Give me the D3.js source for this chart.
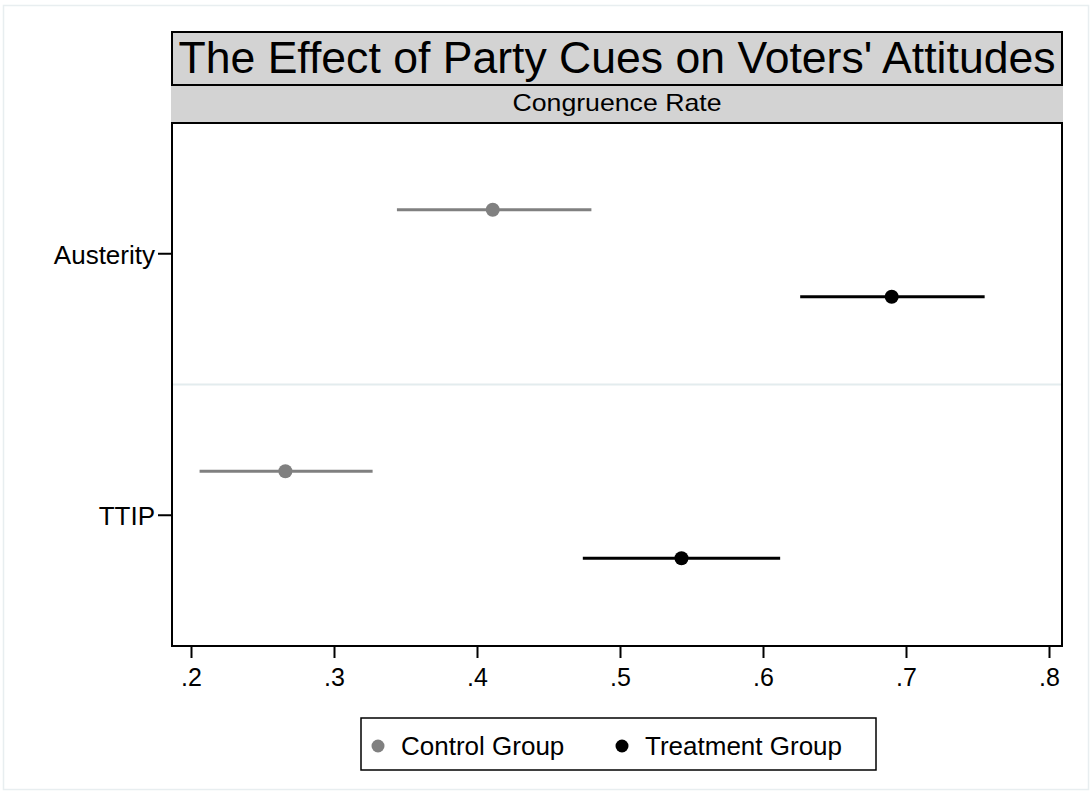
<!DOCTYPE html>
<html>
<head>
<meta charset="utf-8">
<script src="https://cdnjs.cloudflare.com/ajax/libs/d3/7.8.5/d3.min.js"></script>
<style>
  body { margin: 0; background: #fff; }
  text { font-family: "Liberation Sans", Arial, sans-serif; fill: #000; }
</style>
</head>
<body>
<svg id="chart" width="1092" height="794"></svg>
<script>
// data
var issues = ["Austerity", "TTIP"];
var groups = ["Control Group", "Treatment Group"];
var estimates = [
  {issue: "Austerity", group: "Control Group",   est: 0.411, lo: 0.344, hi: 0.480},
  {issue: "Austerity", group: "Treatment Group", est: 0.690, lo: 0.626, hi: 0.755},
  {issue: "TTIP",      group: "Control Group",   est: 0.266, lo: 0.206, hi: 0.327},
  {issue: "TTIP",      group: "Treatment Group", est: 0.543, lo: 0.474, hi: 0.612}
];
var xTicks = [0.2, 0.3, 0.4, 0.5, 0.6, 0.7, 0.8];
var groupColors = ["#808080", "#000000"];

var svg = d3.select("svg#chart");
var width = +svg.attr("width"),
    height = +svg.attr("height");

var plot = {left: 172, right: 1062, top: 123, bottom: 646};

// outer light frame
svg.append("rect")
   .attr("x", 3.5).attr("y", 5.5)
   .attr("width", width - 7).attr("height", height - 10)
   .attr("fill", "none")
   .attr("stroke", "#e8eef0")
   .attr("stroke-width", 1.5);

// title box
svg.append("rect")
   .attr("x", plot.left).attr("y", 32)
   .attr("width", plot.right - plot.left).attr("height", 53)
   .attr("fill", "#d3d3d3")
   .attr("stroke", "#000")
   .attr("stroke-width", 2);

svg.append("text")
   .attr("x", (plot.left + plot.right) / 2)
   .attr("y", 73)
   .attr("text-anchor", "middle")
   .attr("textLength", 877)
   .attr("lengthAdjust", "spacingAndGlyphs")
   .style("font-size", "44px")
   .text("The Effect of Party Cues on Voters' Attitudes");

// subtitle band
svg.append("rect")
   .attr("x", plot.left - 1).attr("y", 86)
   .attr("width", plot.right - plot.left + 2).attr("height", 37)
   .attr("fill", "#d3d3d3");

svg.append("text")
   .attr("x", (plot.left + plot.right) / 2)
   .attr("y", 111)
   .attr("text-anchor", "middle")
   .attr("textLength", 209)
   .attr("lengthAdjust", "spacingAndGlyphs")
   .style("font-size", "24px")
   .text("Congruence Rate");

// scales
var x = d3.scaleLinear()
          .domain([0.2, 0.8])
          .range([191, 1049]);

var y = d3.scaleBand()
          .domain(issues)
          .range([plot.top, plot.bottom]);

var yOff = d3.scalePoint()
             .domain(groups)
             .range([-44, 43]);

var color = d3.scaleOrdinal()
              .domain(groups)
              .range(groupColors);

// separator between issues
svg.append("line")
   .attr("x1", plot.left).attr("x2", plot.right)
   .attr("y1", y("TTIP")).attr("y2", y("TTIP"))
   .attr("stroke", "#e3ecee")
   .attr("stroke-width", 2);

// plot frame
svg.append("rect")
   .attr("x", plot.left).attr("y", plot.top)
   .attr("width", plot.right - plot.left).attr("height", plot.bottom - plot.top)
   .attr("fill", "none")
   .attr("stroke", "#000")
   .attr("stroke-width", 2);

// x axis
var xAxis = svg.append("g")
               .attr("transform", "translate(0," + (plot.bottom + 1) + ")")
               .call(d3.axisBottom(x)
                       .tickValues(xTicks)
                       .tickSize(11)
                       .tickPadding(10)
                       .tickFormat(function(d) { return d3.format(".1f")(d).replace(/^0/, ""); }));
xAxis.select(".domain").remove();
xAxis.selectAll("line").attr("stroke", "#000").attr("stroke-width", 2);
xAxis.selectAll("text")
     .style("font-size", "25px")
     .style("font-family", "Liberation Sans, Arial, sans-serif");

// y axis
var yAxis = svg.append("g")
               .attr("transform", "translate(" + (plot.left - 1) + ",0)")
               .call(d3.axisLeft(y).tickSize(13).tickPadding(3));
yAxis.select(".domain").remove();
yAxis.selectAll("line").attr("stroke", "#000").attr("stroke-width", 2);
yAxis.selectAll("text")
     .style("font-size", "26px")
     .style("font-family", "Liberation Sans, Arial, sans-serif")
     .attr("dy", "0.38em");

// confidence intervals
svg.selectAll("line.ci")
   .data(estimates)
   .enter().append("line")
   .attr("class", "ci")
   .attr("x1", function(d) { return x(d.lo); })
   .attr("x2", function(d) { return x(d.hi); })
   .attr("y1", function(d) { return y(d.issue) + y.bandwidth() / 2 + yOff(d.group); })
   .attr("y2", function(d) { return y(d.issue) + y.bandwidth() / 2 + yOff(d.group); })
   .attr("stroke", function(d) { return color(d.group); })
   .attr("stroke-width", 3);

// point estimates
svg.selectAll("circle.est")
   .data(estimates)
   .enter().append("circle")
   .attr("class", "est")
   .attr("cx", function(d) { return x(d.est); })
   .attr("cy", function(d) { return y(d.issue) + y.bandwidth() / 2 + yOff(d.group); })
   .attr("r", 7)
   .attr("fill", function(d) { return color(d.group); });

// legend
svg.append("rect")
   .attr("x", 361).attr("y", 718)
   .attr("width", 515).attr("height", 52)
   .attr("fill", "#fff")
   .attr("stroke", "#000")
   .attr("stroke-width", 1.5);

var legendX = [378, 622];
var legend = svg.selectAll("g.legend")
                .data(groups)
                .enter().append("g")
                .attr("class", "legend")
                .attr("transform", function(d, i) { return "translate(" + legendX[i] + ",746)"; });

legend.append("circle")
      .attr("r", 6.5)
      .attr("fill", function(d) { return color(d); });

legend.append("text")
      .attr("x", 23)
      .attr("y", 9)
      .style("font-size", "26px")
      .text(function(d) { return d; });
</script>
</body>
</html>
